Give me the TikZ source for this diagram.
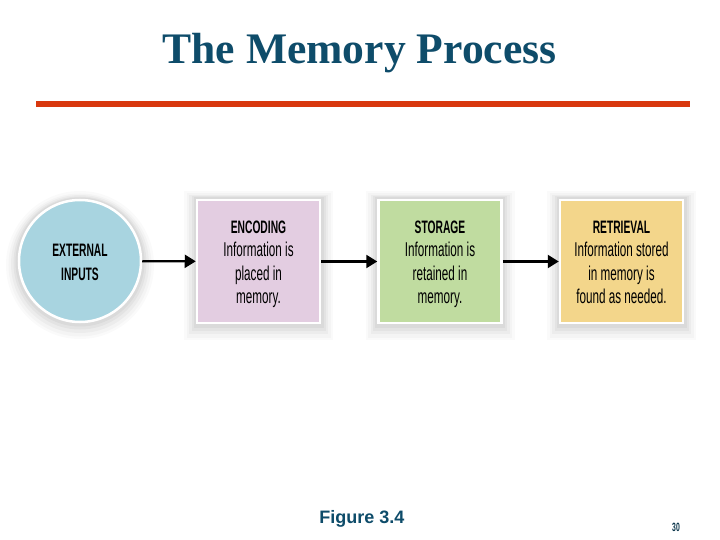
\documentclass[tikz,border=0pt]{standalone}
\usepackage{fontspec}
\setmainfont{Liberation Serif}
\newfontfamily\condreg[FakeStretch=0.585]{Liberation Sans}
\newfontfamily\condbold[FakeStretch=0.57]{Liberation Sans Bold}
\newfontfamily\arialfont{Liberation Sans}
\usetikzlibrary{arrows.meta}
\definecolor{titleblue}{HTML}{0E4C6A}
\definecolor{rulered}{HTML}{D8380E}
\definecolor{inputblue}{HTML}{A8D4E0}
\definecolor{encfill}{HTML}{E3CDE1}
\definecolor{stofill}{HTML}{C0DCA0}
\definecolor{retfill}{HTML}{F3D68B}
\newcommand\lowtext[2]{\raisebox{-#1}[\height][\depth]{\begin{tabular}{@{}c@{}}#2\end{tabular}}}
\newcommand\heading[1]{{\fontsize{18}{23.5}\selectfont\condbold #1}}
\tikzset{
  softshadow/.style={
    preaction={draw=black, opacity=0.02, line width=26pt, transform canvas={yshift=-4pt}},
    preaction={draw=black, opacity=0.025, line width=21pt, transform canvas={yshift=-4pt}},
    preaction={draw=black, opacity=0.03, line width=16pt, transform canvas={yshift=-3pt}},
    preaction={draw=black, opacity=0.035, line width=11pt, transform canvas={yshift=-2pt}},
    preaction={draw=black, opacity=0.04, line width=7pt, transform canvas={yshift=-1pt}}},
  stagebox/.style={rectangle, draw=white, line width=2.5pt, minimum width=123pt,
    minimum height=123pt, softshadow, align=center, inner sep=0pt,
    font=\fontsize{20}{23.5}\selectfont\condreg},
  inputcircle/.style={circle, draw=white, line width=2.5pt, fill=inputblue,
    minimum size=122pt, softshadow, align=center, inner sep=0pt,
    font=\fontsize{18}{24}\selectfont\condbold},
  flow/.style={line width=2.2pt, -{Triangle[length=11pt,width=13pt]}}
}
\begin{document}
\begin{tikzpicture}[x=1pt,y=-1pt]
\useasboundingbox[fill=white] (0,0) rectangle (720,540);
\node[font=\fontsize{43.6}{48}\selectfont\bfseries, text=titleblue, inner sep=0pt] (title) at (359.5,53) {The Memory Process};
\fill[rulered] (36,101) rectangle (690,107);
\node[inputcircle] (inputs) at (80,261) {\lowtext{3pt}{EXTERNAL\\INPUTS}};
\node[stagebox, fill=encfill] (enc) at (258.5,261.5) {\lowtext{2.5pt}{\heading{ENCODING}\\Information is\\placed in\\memory.}};
\node[stagebox, fill=stofill] (sto) at (440,261.5) {\lowtext{2.5pt}{\heading{STORAGE}\\Information is\\retained in\\memory.}};
\node[stagebox, fill=retfill] (ret) at (621.5,261.5) {\lowtext{2.5pt}{\heading{RETRIEVAL}\\Information stored\\in memory is\\found as needed.}};
\draw[flow] (inputs) -- (enc);
\draw[flow] (enc) -- (sto);
\draw[flow] (sto) -- (ret);
\node[font=\fontsize{18}{20}\selectfont\arialfont\bfseries, text=titleblue, inner sep=0pt] (fig) at (362,519) {Figure 3.4};
\node[font=\fontsize{12}{12}\selectfont\condbold, text=titleblue!70!black, inner sep=0pt] (page) at (676,527) {30};
\end{tikzpicture}
\end{document}
